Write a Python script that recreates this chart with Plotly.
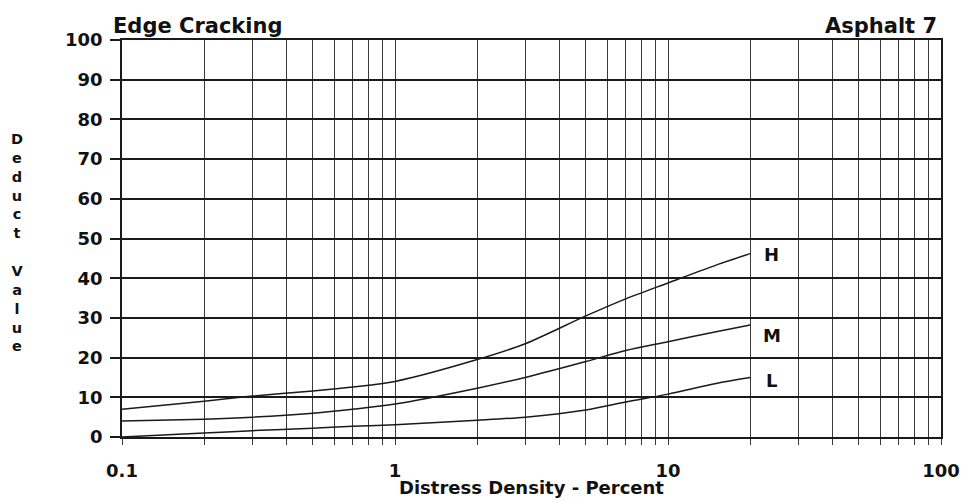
import plotly.graph_objects as go

# ---- data ----
density = [0.1, 0.2, 0.3, 0.5, 0.7, 1, 2, 3, 5, 7, 10, 15, 20]
high    = [7.0, 9.0, 10.3, 11.6, 12.6, 14.0, 19.5, 23.5, 30.5, 34.8, 38.8, 43.3, 46.2]
medium  = [4.0, 4.5, 5.0, 6.0, 7.0, 8.3, 12.3, 15.0, 19.0, 21.8, 24.0, 26.5, 28.2]
low     = [0.0, 1.0, 1.6, 2.2, 2.7, 3.1, 4.2, 5.0, 6.8, 8.8, 10.8, 13.5, 15.0]
series_names = ["H", "M", "L"]

x_tickvals = [m * 10 ** e for e in (-1, 0, 1) for m in range(1, 10)] + [100]
x_ticktext = ["0.1" if v == 0.1 else "1" if v == 1 else "10" if v == 10 else "100" if v == 100 else "" for v in x_tickvals]
y_tickvals = list(range(0, 101, 10))

FONT = "DejaVu Sans"
fig = go.Figure()
for vals in (high, medium, low):
    fig.add_trace(go.Scatter(x=density, y=vals, mode="lines",
                             line=dict(color="#1a1a1a", width=1.5, shape="spline", smoothing=0.8),
                             showlegend=False, hoverinfo="skip"))

label_shift = {"H": -1, "M": -10, "L": -3}
for name, vals in zip(series_names, (high, medium, low)):
    fig.add_annotation(x=1.38, y=vals[-1], xref="x", yref="y", text=f"<b>{name}</b>",
                       showarrow=False, xanchor="center", yanchor="middle", yshift=label_shift[name],
                       font=dict(family=FONT, size=18, color="#111"))

fig.update_layout(
    width=966, height=503,
    margin=dict(l=122, r=25, t=40, b=66),
    paper_bgcolor="white", plot_bgcolor="white",
    xaxis=dict(type="log", range=[-1, 2], tickvals=x_tickvals, ticktext=x_ticktext,
               automargin=False,
               showgrid=True, gridcolor="#3a3a3a", gridwidth=1.2,
               ticks="outside", ticklen=6, tickcolor="#3a3a3a", tickwidth=1.2,
               ticklabelstandoff=11,
               showline=True, linecolor="#1a1a1a", linewidth=1.5, mirror=True,
               tickfont=dict(family=FONT, size=18, color="#111", weight="bold")),
    yaxis=dict(range=[0, 100], tickvals=y_tickvals, automargin=False,
               showgrid=True, gridcolor="#1a1a1a", gridwidth=1.5, zeroline=False,
               ticks="outside", ticklen=10, tickcolor="#1a1a1a", tickwidth=1.5,
               ticklabelstandoff=4,
               showline=True, linecolor="#1a1a1a", linewidth=1.5, mirror=True,
               tickfont=dict(family=FONT, size=18, color="#111", weight="bold")),
)

fig.add_annotation(x=0.5, y=-0.128, xref="paper", yref="paper", yanchor="middle", xanchor="center",
                   text="<b>Distress Density - Percent</b>", showarrow=False,
                   font=dict(family=FONT, size=18, color="#111"))
fig.add_annotation(x=-0.014, y=1.0, xref="paper", yref="paper", yanchor="bottom", xanchor="left",
                   text="<b>Edge Cracking</b>", showarrow=False,
                   font=dict(family=FONT, size=21, color="#111"))
fig.add_annotation(x=0.997, y=1.0, xref="paper", yref="paper", yanchor="bottom", xanchor="right",
                   text="<b>Asphalt 7</b>", showarrow=False,
                   font=dict(family=FONT, size=21, color="#111"))
fig.add_annotation(xref="paper", yref="paper", x=-0.128, y=0.49, xanchor="center", yanchor="middle",
                   text="<b>" + "<br>".join(list("Deduct Value")) + "</b>",
                   showarrow=False, font=dict(family=FONT, size=14.5, color="#111"))

fig.write_html("out.html")
